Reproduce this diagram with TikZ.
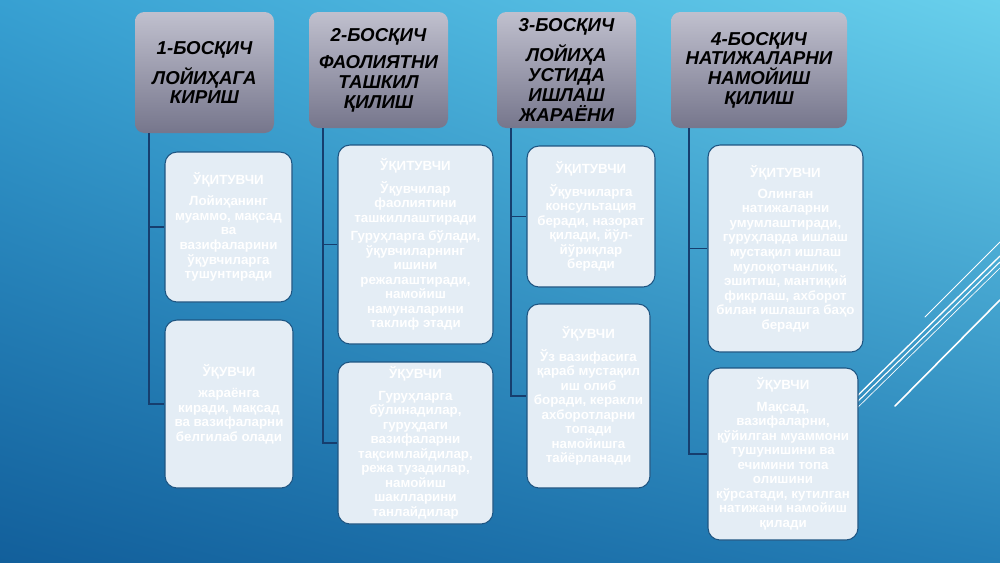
\documentclass[tikz,border=0pt]{standalone}
\usepackage{fontspec}
\setmainfont{Liberation Sans}
\usetikzlibrary{shadings}
\definecolor{bgUL}{RGB}{55,160,210}
\definecolor{bgUR}{RGB}{105,208,236}
\definecolor{bgLL}{RGB}{18,95,155}
\definecolor{bgLR}{RGB}{36,126,182}
\definecolor{hTop}{RGB}{192,192,206}
\definecolor{hBot}{RGB}{118,118,140}
\definecolor{cFill}{RGB}{228,237,245}
\definecolor{cEdge}{RGB}{30,85,130}
\definecolor{linkC}{RGB}{22,62,110}
\begin{document}
\begin{tikzpicture}[x=0.75pt,y=-0.75pt,
  hbox/.style={rounded corners=7pt, top color=hTop, bottom color=hBot, draw=none,
    align=center, inner sep=2pt, text=black,
    font=\fontsize{14}{14.8}\selectfont\bfseries\itshape},
  cbox/.style={rounded corners=9pt, fill=cFill, draw=cEdge, line width=0.8pt,
    align=center, inner sep=2pt, text=white,
    font=\fontsize{10}{10.9}\selectfont\bfseries},
  link/.style={draw=linkC, line width=1pt},
  deco/.style={draw=white, line cap=round}]
\useasboundingbox (0,0) rectangle (1000,562);
\shade[upper left=bgUL, upper right=bgUR, lower left=bgLL, lower right=bgLR]
  (0,0) rectangle (1000,562);
% decorative lines
\draw[deco, line width=0.6pt] (925,317) -- (1000,242);
\draw[deco, line width=1pt] (850,403) -- (1000,256);
\draw[deco, line width=0.8pt] (850,409) -- (1000,262);
\draw[deco, line width=0.5pt] (850,415) -- (1000,268);
\draw[deco, line width=1.2pt] (895,406) -- (1000,300);
% headers
\node[hbox, minimum width=104.25pt, minimum height=90.75pt] (h1) at (204.5,72.5)
  {1-БОСҚИЧ\\[6pt]ЛОЙИҲАГА\\КИРИШ};
\node[hbox, minimum width=104.25pt, minimum height=87pt] (h2) at (378.5,70)
  {2-БОСҚИЧ\\[6pt]ФАОЛИЯТНИ\\ТАШКИЛ\\ҚИЛИШ};
\node[hbox, minimum width=104.25pt, minimum height=87pt] (h3) at (566.5,70)
  {3-БОСҚИЧ\\[6pt]ЛОЙИҲА\\УСТИДА\\ИШЛАШ\\ЖАРАЁНИ};
\node[hbox, minimum width=132pt, minimum height=87pt] (h4) at (759,70)
  {4-БОСҚИЧ\\НАТИЖАЛАРНИ\\НАМОЙИШ\\ҚИЛИШ};
% content boxes
\node[cbox, minimum width=95.25pt, minimum height=112.5pt] (c1a) at (228.5,227)
  {ЎҚИТУВЧИ\\[5pt]Лойиҳанинг\\муаммо, мақсад\\ва\\вазифаларини\\ўқувчиларга\\тушунтиради};
\node[cbox, minimum width=96pt, minimum height=126pt] (c1b) at (229,404)
  {ЎҚУВЧИ\\[5pt]жараёнга\\киради, мақсад\\ва вазифаларни\\белгилаб олади};
\node[cbox, minimum width=116.25pt, minimum height=149.25pt] (c2a) at (415.5,244.5)
  {ЎҚИТУВЧИ\\[5pt]Ўқувчилар\\фаолиятини\\ташкиллаштиради\\[3pt]Гуруҳларга бўлади,\\ўқувчиларнинг\\ишини\\режалаштиради,\\намойиш\\намуналарини\\таклиф этади};
\node[cbox, minimum width=116.25pt, minimum height=121.5pt] (c2b) at (415.5,443)
  {ЎҚУВЧИ\\[5pt]Гуруҳларга\\бўлинадилар,\\гуруҳдаги\\вазифаларни\\тақсимлайдилар,\\режа тузадилар,\\намойиш\\шаклларини\\танлайдилар};
\node[cbox, minimum width=96pt, minimum height=105.75pt] (c3a) at (591,216.5)
  {ЎҚИТУВЧИ\\[5pt]Ўқувчиларга\\консультация\\беради, назорат\\қилади, йўл-\\йўриқлар\\беради};
\node[cbox, minimum width=92.25pt, minimum height=138pt] (c3b) at (588.5,396)
  {ЎҚУВЧИ\\[5pt]Ўз вазифасига\\қараб мустақил\\иш олиб\\боради, керакли\\ахборотларни\\топади\\намойишга\\тайёрланади};
\node[cbox, minimum width=116.25pt, minimum height=155.25pt] (c4a) at (785.5,248.5)
  {ЎҚИТУВЧИ\\[5pt]Олинган\\натижаларни\\умумлаштиради,\\гуруҳларда ишлаш\\мустақил ишлаш\\мулоқотчанлик,\\эшитиш, мантиқий\\фикрлаш, ахборот\\билан ишлашга баҳо\\беради};
\node[cbox, minimum width=112.5pt, minimum height=129pt] (c4b) at (783,454)
  {ЎҚУВЧИ\\[5pt]Мақсад,\\вазифаларни,\\қўйилган муаммони\\тушунишини ва\\ечимини топа\\олишини\\кўрсатади, кутилган\\натижани намойиш\\қилади};
% trunks
\coordinate (t1) at (149,133);
\coordinate (t2) at (323,128);
\coordinate (t3) at (511,128);
\coordinate (t4) at (689,128);
\draw[link] (t1) |- (c1b.west);
\draw[link] (t1 |- c1a.west) -- (c1a.west);
\draw[link] (t2) |- (c2b.west);
\draw[link] (t2 |- c2a.west) -- (c2a.west);
\draw[link] (t3) |- (c3b.west);
\draw[link] (t3 |- c3a.west) -- (c3a.west);
\draw[link] (t4) |- (c4b.west);
\draw[link] (t4 |- c4a.west) -- (c4a.west);
\end{tikzpicture}
\end{document}
